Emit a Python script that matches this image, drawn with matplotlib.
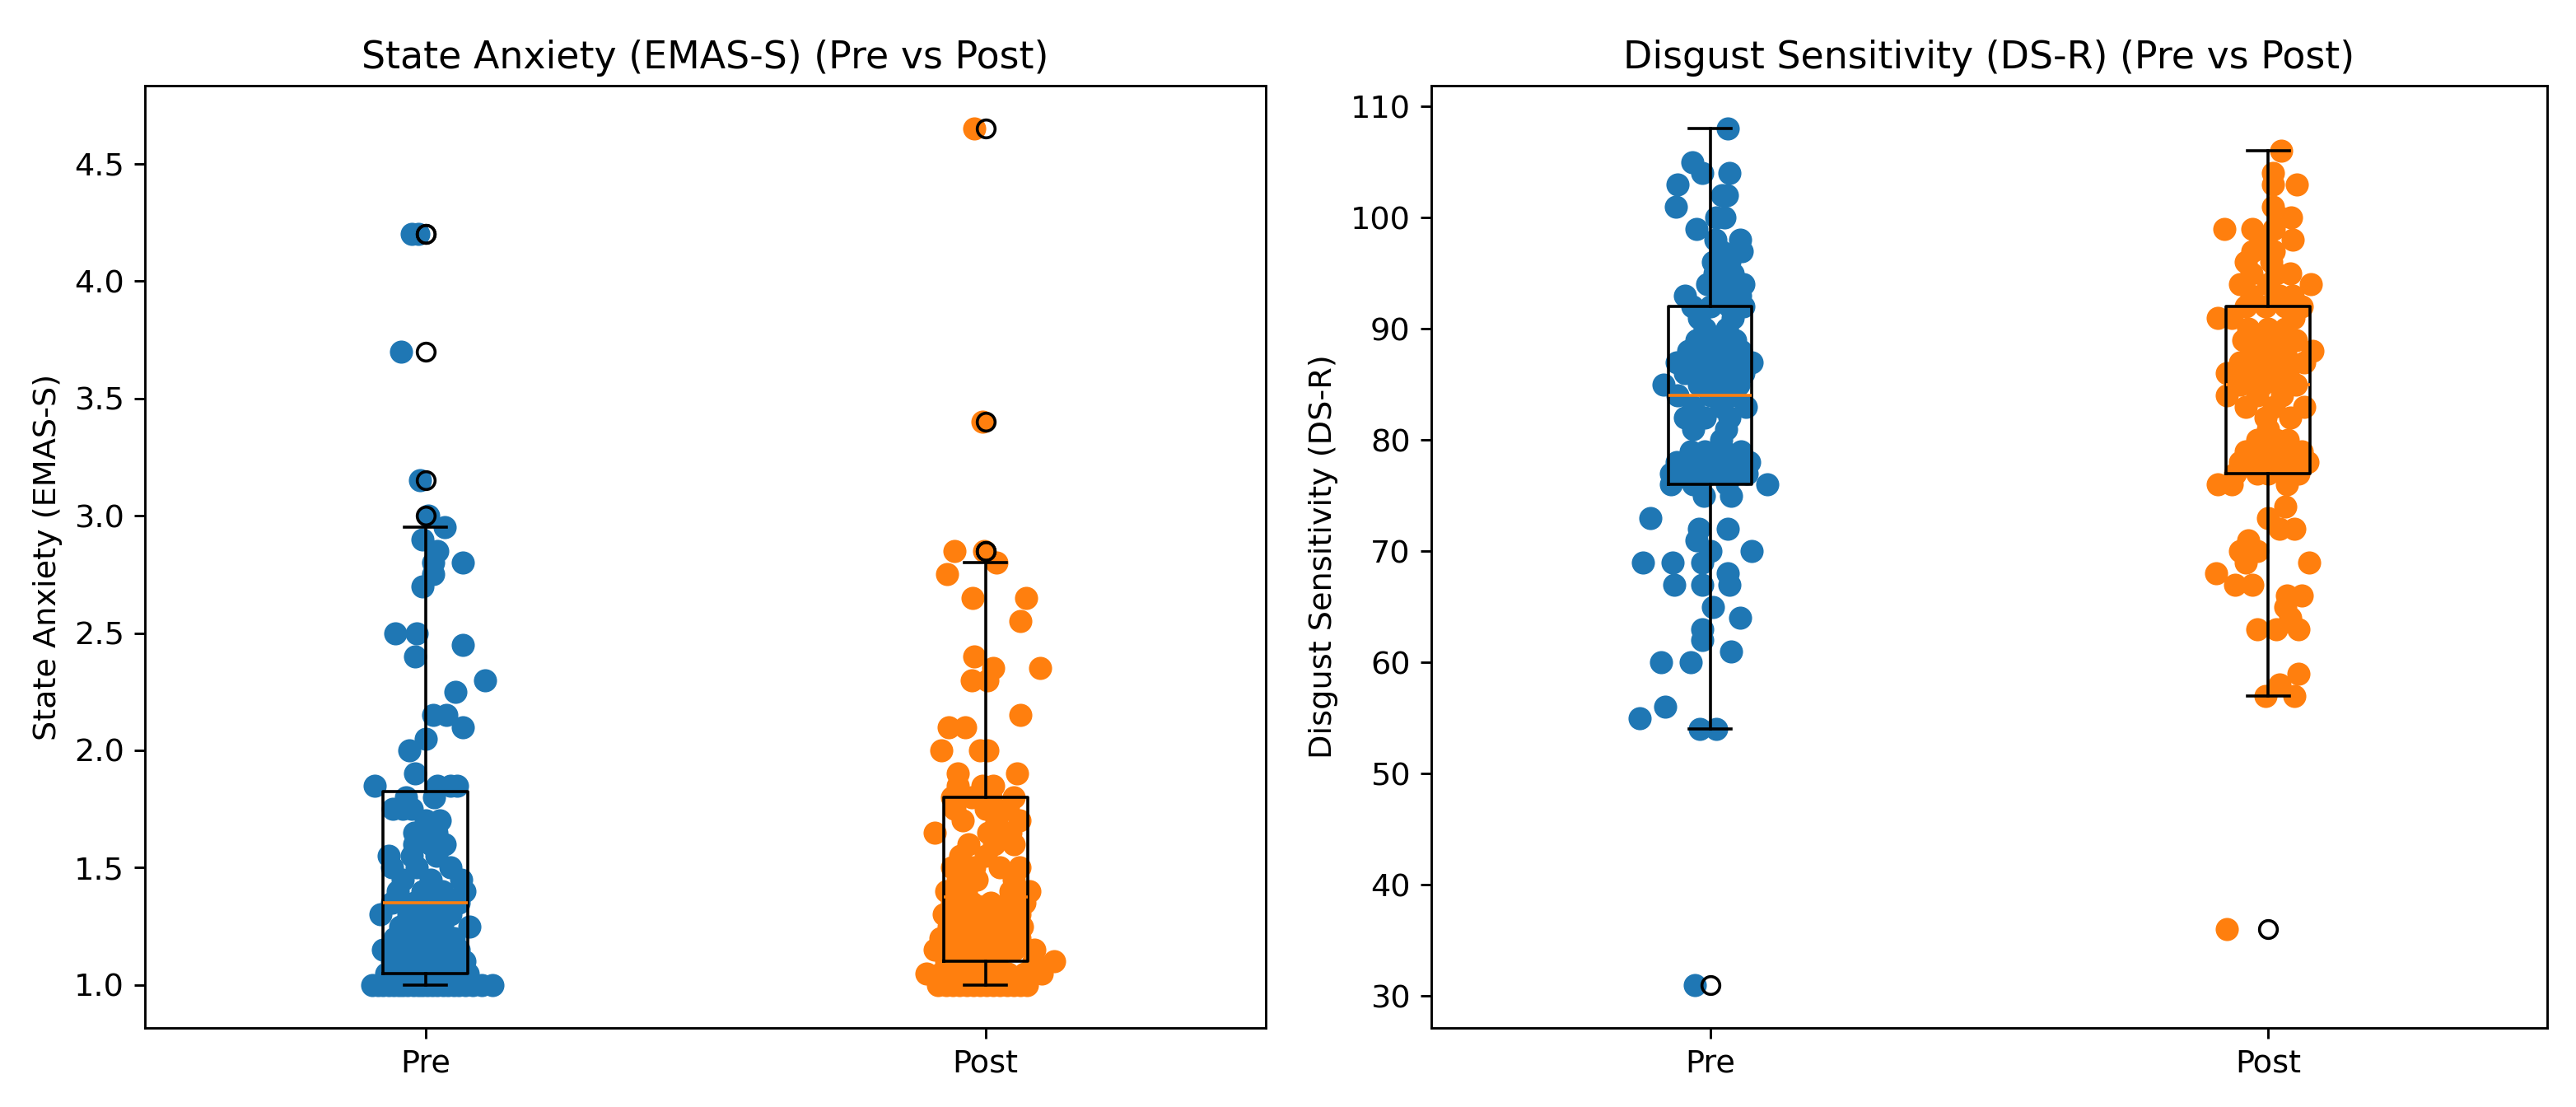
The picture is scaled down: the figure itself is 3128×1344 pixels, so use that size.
import matplotlib
matplotlib.use("Agg")
import matplotlib.pyplot as plt

# categories
groups = ["Pre", "Post"]

# State anxiety (EMAS-S) scores
emas_pre = [
    1.00, 1.00, 1.00, 1.00, 1.00, 1.00, 1.00, 1.00, 1.00, 1.00, 1.00,
    1.00, 1.00, 1.00, 1.00, 1.00, 1.00, 1.00, 1.00, 1.00, 1.00, 1.00,
    1.05, 1.05, 1.05, 1.05, 1.05, 1.05, 1.05, 1.05,
    1.10, 1.10, 1.10, 1.10, 1.10, 1.10,
    1.15, 1.15, 1.15, 1.15, 1.15, 1.15,
    1.20, 1.20, 1.20, 1.20,
    1.25, 1.25, 1.25, 1.25,
    1.30, 1.30, 1.30, 1.30,
    1.35, 1.35, 1.35, 1.35,
    1.40, 1.40, 1.40, 1.40,
    1.45, 1.45, 1.45,
    1.50, 1.50, 1.50,
    1.55, 1.55, 1.55,
    1.60, 1.60, 1.60,
    1.65, 1.65,
    1.70, 1.70,
    1.75, 1.75, 1.75,
    1.80, 1.80,
    1.85, 1.85, 1.85, 1.85,
    1.90,
    2.00, 2.05, 2.10, 2.15, 2.15, 2.25, 2.30, 2.40, 2.45, 2.50, 2.50,
    2.70, 2.75, 2.80, 2.80, 2.85, 2.90, 2.95,
    3.00, 3.15, 3.70, 4.20, 4.20,
]
# horizontal jitter of each dot, same order
emas_pre_jitter = [
    -0.095, -0.085, -0.075, -0.066, -0.057, -0.048, -0.040, -0.031, -0.022, -0.013, -0.005,
    0.004, 0.013, 0.022, 0.031, 0.040, 0.050, 0.060, 0.072, 0.085, 0.100, 0.120,
    -0.070, -0.045, -0.020, 0.000, 0.020, 0.040, 0.060, 0.075,
    -0.060, -0.030, -0.005, 0.020, 0.045, 0.070,
    -0.075, -0.040, -0.015, 0.010, 0.035, 0.060,
    -0.055, -0.020, 0.015, 0.050,
    -0.045, -0.010, 0.030, 0.079,
    -0.080, -0.030, 0.005, 0.045,
    -0.060, -0.020, 0.025, 0.060,
    -0.050, -0.005, 0.030, 0.070,
    -0.040, 0.010, 0.064,
    -0.060, -0.015, 0.045,
    -0.066, -0.025, 0.020,
    -0.020, 0.010, 0.035,
    -0.020, 0.020,
    0.000, 0.025,
    -0.058, -0.040, -0.024,
    -0.035, 0.015,
    -0.090, 0.021, 0.045, 0.057,
    -0.018,
    -0.028, 0.001, 0.067, 0.014, 0.037, 0.054, 0.106, -0.018, 0.067, -0.054, -0.015,
    -0.005, 0.014, 0.014, 0.067, 0.021, -0.005, 0.034,
    0.005, -0.010, -0.044, -0.025, -0.012,
]

emas_post = [
    1.00, 1.00, 1.00, 1.00, 1.00, 1.00, 1.00, 1.00, 1.00, 1.00, 1.00, 1.00, 1.00, 1.00,
    1.05, 1.05, 1.05, 1.05, 1.05, 1.05, 1.05, 1.05,
    1.10, 1.10, 1.10, 1.10, 1.10, 1.10,
    1.15, 1.15, 1.15, 1.15, 1.15, 1.15,
    1.20, 1.20, 1.20, 1.20, 1.20,
    1.25, 1.25, 1.25, 1.25, 1.25,
    1.30, 1.30, 1.30, 1.30, 1.30,
    1.35, 1.35, 1.35, 1.35, 1.35,
    1.40, 1.40, 1.40, 1.40,
    1.45, 1.45, 1.45,
    1.50, 1.50, 1.50, 1.50,
    1.55, 1.55,
    1.60, 1.60, 1.60,
    1.65, 1.65, 1.65,
    1.70, 1.70, 1.70,
    1.75, 1.75, 1.75,
    1.80, 1.80, 1.80, 1.80,
    1.85, 1.85, 1.85,
    1.90, 1.90,
    2.00, 2.00, 2.00,
    2.10, 2.10, 2.15,
    2.30, 2.30, 2.35, 2.35, 2.40,
    2.55, 2.65, 2.65, 2.75, 2.80,
    2.85, 2.85, 3.40, 4.65,
]
emas_post_jitter = [
    -0.085, -0.070, -0.058, -0.046, -0.034, -0.022, -0.010, 0.002, 0.014, 0.026, 0.038, 0.050, 0.062, 0.074,
    -0.105, -0.080, -0.050, -0.020, 0.010, 0.040, 0.070, 0.100,
    -0.070, -0.040, -0.010, 0.020, 0.085, 0.123,
    -0.090, -0.055, -0.020, 0.015, 0.050, 0.087,
    -0.080, -0.045, -0.010, 0.025, 0.060,
    -0.065, -0.030, 0.000, 0.035, 0.065,
    -0.075, -0.040, -0.005, 0.030, 0.060,
    -0.060, -0.025, 0.010, 0.040, 0.070,
    -0.070, -0.035, 0.045, 0.079,
    -0.050, -0.015, 0.050,
    -0.060, -0.020, 0.025, 0.060,
    -0.045, 0.000,
    -0.030, 0.015, 0.050,
    -0.090, 0.005, 0.045,
    -0.040, 0.020, 0.060,
    -0.055, 0.000, 0.040,
    -0.060, -0.025, 0.010, 0.050,
    -0.050, -0.005, 0.014,
    -0.050, 0.056,
    -0.079, -0.010, 0.003,
    -0.065, -0.037, 0.062,
    -0.025, 0.003, 0.014, 0.098, -0.020,
    0.062, -0.023, 0.073, -0.068, 0.020,
    -0.056, -0.003, -0.006, -0.020,
]

# Disgust sensitivity (DS-R) scores
dsr_pre = [
    31, 54, 54, 55, 56, 60, 60, 61, 62, 63, 64, 65, 67, 67, 67, 68,
    69, 69, 69, 70, 70, 71, 72, 72, 73, 75, 75,
    76, 76, 76, 76,
    77, 77, 77, 77, 77,
    78, 78, 78, 78, 78,
    79, 79, 79, 79,
    80, 81, 81,
    82, 82, 82,
    83, 83, 83,
    84, 84, 84,
    85, 85, 85, 85,
    86, 86, 86, 86,
    87, 87, 87, 87, 87,
    88, 88, 88, 88,
    89, 89, 89,
    90, 90, 91, 91,
    92, 92, 92, 92,
    93, 93, 93, 94, 94, 94, 95, 95, 96, 96, 97, 97, 98, 98,
    99, 100, 100, 101, 102, 102, 103, 104, 104, 105, 108,
]
dsr_pre_jitter = [
    -0.028, -0.018, 0.011, -0.127, -0.081, -0.088, -0.035, 0.038, -0.015, -0.015, 0.054, 0.005, -0.065, -0.015, 0.034, 0.031,
    -0.120, -0.068, -0.015, 0.001, 0.074, -0.025, -0.020, 0.031, -0.107, -0.012, 0.038,
    -0.070, -0.030, 0.030, 0.103,
    -0.071, -0.040, 0.000, 0.040, 0.065,
    -0.060, -0.020, 0.015, 0.045, 0.070,
    -0.035, -0.010, 0.025, 0.055,
    0.020, -0.030, 0.028,
    -0.045, -0.010, 0.035,
    -0.030, 0.020, 0.064,
    -0.058, 0.000, 0.040,
    -0.084, -0.020, 0.015, 0.050,
    -0.045, -0.010, 0.030, 0.060,
    -0.060, -0.030, 0.000, 0.035, 0.074,
    -0.040, -0.005, 0.025, 0.055,
    -0.025, 0.010, 0.045,
    -0.010, 0.030, -0.020, 0.040,
    -0.032, 0.000, 0.034, 0.060,
    -0.045, 0.020, 0.054, -0.005, 0.030, 0.060, 0.008, 0.040, 0.005, 0.035, 0.020, 0.057, 0.010, 0.054,
    -0.025, 0.011, 0.025, -0.061, 0.021, 0.030, -0.059, -0.015, 0.034, -0.032, 0.031,
]

dsr_post = [
    36, 57, 57, 58, 59, 63, 63, 63, 64, 65, 66, 66, 67, 67, 68,
    69, 69, 70, 70, 71, 72, 72, 73, 74, 76, 76, 76,
    77, 77, 77, 77, 77,
    78, 78, 78, 78, 78,
    79, 79, 79, 79, 79,
    80, 80, 80, 81,
    82, 82,
    83, 83, 83,
    84, 84, 84,
    85, 85, 85, 85,
    86, 86, 86, 86,
    87, 87, 87, 87, 87,
    88, 88, 88, 88,
    89, 89, 89, 89,
    90, 90, 90,
    91, 91, 91,
    92, 92, 92, 92,
    93, 93, 93, 94, 94, 94, 95, 95, 95, 96, 96, 97, 97, 98, 98,
    99, 99, 99, 100, 100, 101, 103, 103, 104, 106,
]
dsr_post_jitter = [
    -0.074, -0.005, 0.047, 0.021, 0.054, -0.020, 0.015, 0.054, 0.040, 0.030, 0.034, 0.060, -0.028, -0.060, -0.094,
    0.074, -0.040, -0.050, -0.020, -0.035, 0.047, 0.020, 0.000, 0.030, -0.091, -0.065, 0.034,
    -0.060, -0.020, 0.000, 0.030, 0.055,
    -0.050, -0.015, 0.020, 0.045, 0.070,
    -0.040, -0.010, 0.015, 0.040, 0.060,
    -0.020, 0.015, 0.035, 0.000,
    -0.005, 0.040,
    -0.040, 0.010, 0.064,
    -0.074, -0.020, 0.025,
    -0.050, -0.010, 0.020, 0.050,
    -0.074, -0.035, 0.000, 0.035,
    -0.050, -0.020, 0.010, 0.040, 0.065,
    -0.030, 0.000, 0.030, 0.080,
    -0.045, -0.010, 0.020, 0.050,
    -0.035, 0.000, 0.030,
    -0.091, -0.065, 0.045,
    -0.040, -0.005, 0.030, 0.060,
    -0.030, 0.020, 0.044, -0.051, 0.000, 0.077, -0.030, 0.014, 0.040, -0.040, 0.005, -0.028, 0.010, 0.044, -0.010,
    -0.078, -0.028, 0.010, 0.041, 0.020, 0.008, 0.008, 0.051, 0.008, 0.024,
]

panels = [
    ("State Anxiety (EMAS-S)", [emas_pre, emas_post], [emas_pre_jitter, emas_post_jitter]),
    ("Disgust Sensitivity (DS-R)", [dsr_pre, dsr_post], [dsr_pre_jitter, dsr_post_jitter]),
]
colors = ["tab:blue", "tab:orange"]

plt.rcParams["font.size"] = 10.6

fig, axes = plt.subplots(1, 2, figsize=(3128 / 260, 1344 / 260), dpi=260)
axes[0].set_position([0.0564, 0.0716, 0.4349, 0.8508])
axes[1].set_position([0.5556, 0.0716, 0.4332, 0.8508])

for ax, (name, data, jitter) in zip(axes, panels):
    ax.boxplot(data, tick_labels=groups)
    for i, (vals, jit) in enumerate(zip(data, jitter)):
        xs = [i + 1 + j for j in jit]
        ax.scatter(xs, vals, s=46, color=colors[i])
    ax.set_title(f"{name} (Pre vs Post)")
    ax.set_ylabel(name)

fig.savefig("out.png", dpi=260)
